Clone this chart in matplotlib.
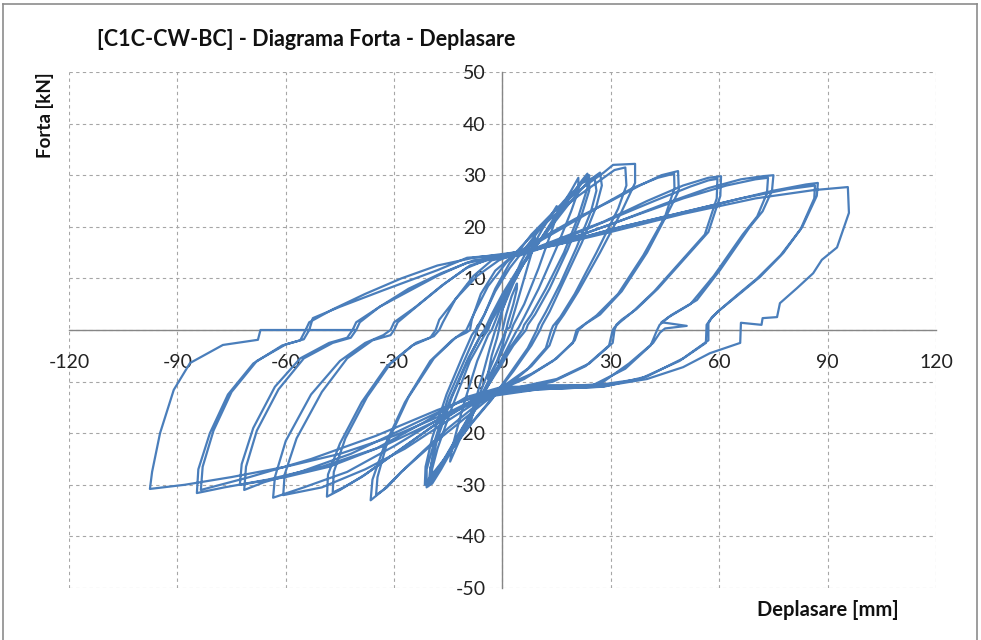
import matplotlib
matplotlib.use("Agg")
import matplotlib.pyplot as plt
from matplotlib.lines import Line2D

plt.rcParams['font.family'] = ['Lato', 'DejaVu Sans']
plt.rcParams['axes.unicode_minus'] = False

# Hysteresis record, one list pair per loading cycle (displacement in mm, force in kN)
cycle_01_mm = [0, 1, 2.5, 4, 4, 3, 1.5, 1, 0, -1.5, -3, -4, -4, -3, -1.5, -1]
cycle_01_kN = [0, 3, 6.5, 9, 8, 5, 1.5, 0, -3, -6, -8, -9.5, -8.5, -5, -1.5, 0]

cycle_02_mm = [-1, 0, 2, 5, 8, 9, 8.5, 6, 3.5, 2, 1, -2, -5, -8, -9, -8.5, -6, -3.5, -2]
cycle_02_kN = [0, 4, 8, 13, 17, 18, 16, 10, 4, 0.5, 0, -5, -10, -15.5, -18.5, -16, -10, -3.5, 0]

cycle_03_mm = [-2, 0, 3, 7, 11, 15, 15.5, 14, 10, 6, 3, 2.5, 0, -4, -8, -12, -14.5, -14, -11, -7, -4, -3]
cycle_03_kN = [0, 4, 9, 14.5, 19.5, 24, 23.5, 20, 12, 5, 1, 0, -4, -10, -16, -21.5, -25.5, -23, -15, -6, -1, 0]

cycle_04_mm = [-3, -1, 2, 6, 10, 15, 19, 21, 21, 19, 15, 10, 6, 4.5, 4, 1, -3, -8, -13, -17, -19.5,
               -19.5, -18, -14, -9, -5, -4]
cycle_04_kN = [0, 3.5, 8, 13, 17, 22.5, 27, 29.5, 27, 23, 16, 8, 2.5, 0.5, 0, -4, -9.5, -16, -22, -27, -29.8,
               -27, -23, -15, -6, -1, 0]

cycle_04b_mm = [-4, -2.5, 0, 4, 8, 13, 18, 22, 24, 24, 22, 18, 13, 9, 7, 6.5, 3, -1, -6, -11, -16, -20,
                -20, -18.5, -14.5, -9.5, -6, -4.5]
cycle_04b_kN = [0, 3, 6.5, 11, 15, 20, 25, 28.5, 30, 27, 22.5, 15.5, 8, 3, 1, 0, -3, -7.5, -13, -19, -25, -30,
                -27, -21.5, -13.5, -5.5, -1, 0]

cycle_05_mm = [-4.5, -2, 1, 5, 9, 14, 19, 22, 23.5, 23.5, 21, 17, 12, 8, 6, 5.5, 2, -2, -7, -12, -17, -20.5,
               -20, -18, -14, -9, -6, -5]
cycle_05_kN = [0, 3, 7.5, 12, 16, 21, 26, 29, 30.3, 27.5, 22, 15, 8, 3, 1, 0, -3.5, -8, -14, -20, -26, -30.3,
               -27, -21, -13, -5, -1, 0]

cycle_06_mm = [-5, -3, 0, 4, 9, 14, 19, 24, 27, 27.5, 26, 22, 17, 13, 11, 10.4, 8, 3, -2, -8, -14, -19, -21,
               -21, -19, -15, -10, -7.5, -7]
cycle_06_kN = [0, 3, 7, 11.5, 16, 20.5, 25, 29, 30.5, 28, 24, 17, 9.5, 3.5, 1, 0, -3, -8, -12.5, -17.5, -23, -28,
               -30.5, -27, -22, -13, -5, -1, 0]

cycle_06b_mm = [-7, -5, -2, 2, 7, 12, 17, 22, 25.5, 26, 24.5, 20.5, 16, 12, 10, 9.5, 7, 2, -3, -9, -15, -19.5,
                -21.5, -21.3, -19.5, -15.5, -11, -8.5, -7.5]
cycle_06b_kN = [0, 3, 7.5, 12, 16.5, 21, 25, 28.5, 29.5, 27, 23, 16, 9, 3.5, 1, 0, -3.5, -8.5, -13.5, -18.5, -24,
                -28, -30, -26.5, -21, -12.5, -5, -1, 0]

cycle_07_mm = [-7.5, -5, -2, 2, 8, 15, 22, 28, 30.6, 36.7, 36.7, 33, 27, 21, 17, 15, 14.5,
               13, 8, 2, -5, -12, -20, -28, -33, -36.5, -36, -33, -27, -20, -14, -11, -10]
cycle_07_kN = [0, 3, 8, 13, 18.5, 23.5, 27.5, 30.5, 32, 32.2, 28.5, 23, 15, 7.5, 3, 1, 0,
               -3, -7, -10.5, -14, -18, -22.5, -27.5, -31, -33, -29, -23, -14, -6, -2, -0.5, 0]

cycle_07b_mm = [-10, -8, -4, 1, 7, 14, 21, 27, 31, 34, 34.3, 32, 26, 20, 16, 14, 13.5,
                12, 7, 0, -8, -15, -22, -28, -32, -35, -34.6, -32, -26, -19, -13, -10, -9]
cycle_07b_kN = [0, 3, 8.5, 13, 17.5, 22, 26, 29, 31, 31.5, 28, 23.5, 15, 7, 2.5, 0.8, 0,
                -3.5, -7.5, -11, -15, -19, -23.5, -27.5, -30.5, -32, -28.5, -22, -13, -5.5, -1.5, -0.5, 0]

cycle_08_mm = [-9, -8.5, -6, -2, 3, 10, 20, 30, 38, 44, 48.6, 48.8, 46, 40, 33, 27, 23, 21,
               20, 15, 8, 0, -8, -18, -28, -38, -45, -48.6, -48.3, -45, -39, -32, -25, -20, -18.5]
cycle_08_kN = [0, 2, 7, 11.5, 14.5, 17.5, 21.5, 25, 28, 30, 30.8, 27, 23, 15, 7.5, 3, 1.2, 0,
               -2, -5.5, -8.5, -11, -13.5, -18, -23, -28, -31, -32.3, -28, -22, -14, -7, -3, -1.5, 0]

cycle_08b_mm = [-18.5, -17.5, -13, -7, -1, 6, 16, 27, 36, 43, 47.5, 47.6, 45, 39, 32, 26, 22.5, 20.5,
                19.5, 14, 6, -2, -10, -20, -30, -39, -44, -47, -46.7, -43.5, -37.5, -31, -24, -19, -17.5]
cycle_08b_kN = [0, 2, 6, 10.5, 13.5, 15.5, 19.5, 24, 27.5, 29.5, 30.3, 27.5, 22, 14.5, 7, 2.8, 1, 0,
                -2.5, -6, -9.5, -12, -14.5, -19, -24, -28.5, -30.5, -31.5, -27.5, -21, -13, -6.5, -2.5, -1.2, 0]

cycle_09_mm = [-17.5, -16.5, -13, -8, -3, 4, 15, 28, 40, 50, 57, 60.5, 60.3, 57, 50, 43, 37, 33, 31.5, 31,
               30.5, 24, 15, 5, -5, -15, -27, -38, -50, -60.7, -60.3, -57, -50, -43, -36, -31, -30]
cycle_09_kN = [0, 1.5, 6, 10.5, 13.5, 14.5, 17.5, 21, 25, 28, 29.5, 29.8, 26, 19, 13.5, 8, 4, 2, 1, 0,
               -2.5, -6.5, -9.5, -11, -13, -17.5, -23, -27, -30.5, -32, -28, -21, -12, -5.5, -2, -1, 0]

cycle_09b_mm = [-30, -29, -23, -16, -9, -2, 6, 18, 30, 42, 52, 57, 59.5, 59.3, 56, 49, 42, 36, 32.5, 31, 30.5,
                29.5, 23, 14, 4, -6, -17, -30, -43, -55, -63.5, -63, -60, -53, -45, -38, -33, -31]
cycle_09b_kN = [0, 1.5, 5, 9, 12.5, 14, 15, 18, 21.5, 25, 27.8, 29, 29.3, 25.5, 18.5, 13, 7.5, 3.5, 1.5, 0.5, 0,
                -3, -7, -10, -11.5, -13, -17, -22.5, -27.5, -30.5, -32.5, -28.5, -21.5, -12.5, -6, -2.5, -1, 0]

cycle_10_mm = [-31, -30, -24, -17, -10, -3, 5, 18, 32, 45, 57, 66, 72, 75, 74.6, 72, 68.5, 60.2, 53.8, 47,
               44, 51, 45, 43.6,
               41.7, 35, 27, 15, 0, -10, -22, -35, -48, -60, -72.7, -72.2, -69, -63, -56, -48, -43, -41.5]
cycle_10_kN = [0, 1.5, 4.5, 8.5, 12, 14, 14.5, 17.5, 21, 24.5, 27.5, 29.2, 29.8, 30, 27, 23, 20, 11.6, 5.8, 3,
               1.5, 0.8, 0.3, -0.5,
               -2.5, -6.5, -10.5, -11, -11, -13, -18, -23, -26.5, -28.5, -30, -26, -19, -11, -5.5, -2.5,
               -1.5, 0]

cycle_10b_mm = [-41.5, -40.5, -34, -26, -18, -10, -2, 8, 22, 36, 50, 62, 70, 73.5, 73.2, 70.5, 66.5, 58.5, 52,
                46, 43.5, 42.8,
                41, 34, 25, 12, 0, -12, -27, -42, -56, -66, -71.5, -71, -68, -62, -55, -47, -42, -40.5]
cycle_10b_kN = [0, 1.5, 4.5, 7.5, 10.5, 13, 14, 15.5, 18.5, 22, 25.5, 28, 29.2, 29.5, 26.5, 22, 18.5, 10.5, 5,
                2.5, 1, 0,
                -3, -7.5, -10.7, -10.7, -11.5, -14, -19, -24, -27.5, -29.5, -31, -26.5, -19.5, -11.5, -5.5,
                -2.5, -1.5, 0]

cycle_11_mm = [-40.5, -39.5, -34, -26, -17, -8, 2, 15, 30, 45, 60, 75, 84, 87.3, 87, 83, 77.7, 71.3, 65.8,
               60.2, 58, 57, 57,
               50, 40, 28, 10, -5, -18, -33, -50, -65, -77, -84.6, -84.2, -81, -76, -69, -61, -56, -54.5]
cycle_11_kN = [0, 1.5, 4.5, 8, 11, 13.5, 14.5, 16.5, 19.5, 22, 24.5, 27, 28.2, 28.5, 26, 20, 14.9, 10.3, 7.1,
               3.9, 2.5, 1.3, -2,
               -5.5, -9, -11, -11.5, -13, -17.5, -22.5, -26.5, -29, -30.5, -31.6, -27, -20, -12.5, -6.5, -3,
               -2, 0]

cycle_11b_mm = [-54.5, -53.5, -47, -38, -28, -18, -8, 3, 17, 33, 50, 66, 79, 86.5, 86.3, 82.5, 77, 70.5, 65,
                59.5, 57.5, 56.5, 56.3,
                49, 38, 26, 10, -4, -18, -35, -53, -70, -83.5, -83, -80, -75, -68, -60, -55, -53.5]
cycle_11b_kN = [0, 1.5, 4, 7, 10, 12.5, 14, 15, 17, 20, 22.8, 25.5, 27.3, 28, 25.5, 19.5, 14.5, 10, 6.8,
                3.5, 2, 1, -2.5,
                -6, -9.5, -10.7, -11.2, -12, -15.5, -20.5, -25, -28.5, -31, -26.5, -19.5, -12, -6, -2.8, -1.8, 0]

cycle_12_mm = [-53.5, -52.5, -45, -33, -18, -9.8, -0.7, 15, 30, 50, 70, 86, 95.6, 95.9, 92.6, 88.4, 86, 81.5,
               76.8, 76, 72, 71.7, 66, 65.8,
               57.4, 50, 40, 27, 10, -5, -15, -30, -45, -60, -75, -88, -97.6, -97, -94.8, -91, -86.5, -77.4,
               -67.7, -67, -41]
cycle_12_kN = [0, 2.3, 4.5, 7.7, 11.6, 14, 14.5, 16.5, 19, 22.5, 25.5, 27.1, 27.7, 22.7, 16, 13.6, 11, 8.1,
               5.2, 2.5, 2.3, 1, 1.4, -2.5,
               -4.5, -7.2, -9.5, -11, -11.5, -12.5, -16, -20.5, -24, -26.5, -28.5, -30, -30.8, -27.5, -20,
               -11.6, -6.4, -2.9, -1.9, 0, 0]

cycles_mm = [cycle_01_mm, cycle_02_mm, cycle_03_mm, cycle_04_mm, cycle_04b_mm, cycle_05_mm,
             cycle_06_mm, cycle_06b_mm, cycle_07_mm, cycle_07b_mm, cycle_08_mm, cycle_08b_mm,
             cycle_09_mm, cycle_09b_mm, cycle_10_mm, cycle_10b_mm, cycle_11_mm, cycle_11b_mm, cycle_12_mm]
cycles_kN = [cycle_01_kN, cycle_02_kN, cycle_03_kN, cycle_04_kN, cycle_04b_kN, cycle_05_kN,
             cycle_06_kN, cycle_06b_kN, cycle_07_kN, cycle_07b_kN, cycle_08_kN, cycle_08b_kN,
             cycle_09_kN, cycle_09b_kN, cycle_10_kN, cycle_10b_kN, cycle_11_kN, cycle_11b_kN, cycle_12_kN]

x_ticks = [-120, -90, -60, -30, 0, 30, 60, 90, 120]
y_ticks = [-50, -40, -30, -20, -10, 0, 10, 20, 30, 40, 50]

disp = [v for c in cycles_mm for v in c]
force = [v for c in cycles_kN for v in c]

W, H = 981, 640
fig = plt.figure(figsize=(W / 100, H / 100), dpi=100)
ax = fig.add_axes([69 / W, 1 - 588 / H, (936 - 69) / W, (588 - 72) / H])

ax.plot(disp, force, color='#4A7EBB', lw=1.6, solid_joinstyle='round')

ax.set_xlim(-120, 120)
ax.set_ylim(-50, 50)
ax.set_xticks(x_ticks)
ax.set_yticks(y_ticks)
ax.grid(True, color='#A6A6A6', linestyle=(0, (3, 3)), lw=0.8)
ax.set_axisbelow(True)

for side in ('top', 'right'):
    ax.spines[side].set_visible(False)
ax.spines['left'].set_position(('data', 0))
ax.spines['bottom'].set_position(('data', 0))
for side in ('left', 'bottom'):
    ax.spines[side].set_color('#868686')
    ax.spines[side].set_linewidth(1.0)
    ax.spines[side].set_zorder(1)

ax.tick_params(axis='x', length=0, pad=17, labelsize=14, colors='#222222')
ax.tick_params(axis='y', length=0, pad=12, labelsize=14, colors='#222222')

fig.text(97 / W, 1 - 40 / H, '[C1C-CW-BC] - Diagrama Forta - Deplasare',
         ha='left', va='center', fontsize=15.5, fontweight='bold', color='#111111')
fig.text(45 / W, 1 - 115 / H, 'Forta [kN]', rotation=90, ha='center', va='center',
         fontsize=13.5, fontweight='bold', color='#111111')
fig.text(828 / W, 1 - 610 / H, 'Deplasare [mm]', ha='center', va='center',
         fontsize=14.5, fontweight='bold', color='#111111')

# Outer chart frame
frame_kw = dict(color='#8C8C8C', lw=1.2, transform=fig.transFigure)
fig.add_artist(Line2D([3 / W, 977 / W], [1 - 4 / H, 1 - 4 / H], **frame_kw))
fig.add_artist(Line2D([3 / W, 3 / W], [0, 1 - 4 / H], **frame_kw))
fig.add_artist(Line2D([977 / W, 977 / W], [0, 1 - 4 / H], **frame_kw))

fig.savefig('out.png', dpi=100)
